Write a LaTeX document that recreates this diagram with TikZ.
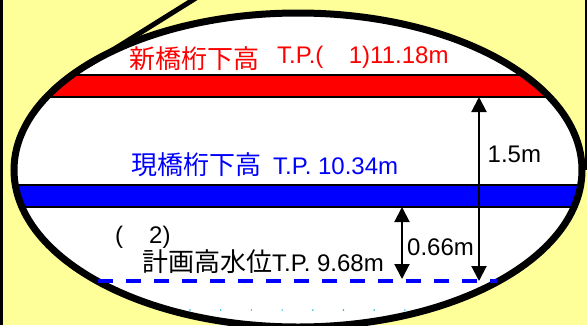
\documentclass[tikz,border=0pt]{standalone}
\usepackage{fontspec}
\setmainfont{Liberation Sans}
\newfontfamily\jp[Scale=1.083]{Noto Sans CJK JP}
\usepackage{tikz}
\usetikzlibrary{arrows.meta}
\definecolor{memo}{RGB}{255,255,153}
\definecolor{newred}{RGB}{255,0,0}
\definecolor{oldblue}{RGB}{0,0,255}
\tikzset{
    lbl/.style={anchor=base west, inner sep=0pt, font=\fontsize{24}{28}\selectfont},
    girder/.style={draw=black, line width=1.5pt},
    dimarrow/.style={{Triangle[width=15pt,length=15pt]}-{Triangle[width=15pt,length=15pt]}, line width=2pt},
}

\begin{document}
\begin{tikzpicture}[x=1pt,y=-1pt]
                \useasboundingbox (0,0) rectangle (587,325);
                \fill[memo] (0,0) rectangle (587,325);
                \fill[black] (0,0) rectangle (3,325);
                \draw[line width=2pt] (586,0) -- (586,170);
                % balloon
                \fill[white] (298,170) ellipse[x radius=284pt, y radius=157pt];
                \begin{scope}
                    \clip (298,170) ellipse[x radius=284pt, y radius=157pt];
                    \filldraw[girder, fill=newred] (0,75) rectangle (600,97);
                    \filldraw[girder, fill=oldblue] (0,185) rectangle (600,207);
                \end{scope}
                \draw[line width=7pt] (298,170) ellipse[x radius=284pt, y radius=157pt];
                \draw[line width=5pt] (196,-2) -- (87,66);
                \foreach \i in {0,...,7}
                    \fill[cyan] (190+30.7*\i,310) circle[radius=0.8pt];
                % levels
                \coordinate (hwlA) at (98,281);
                \coordinate (hwlB) at (497,281);
                \coordinate (newbot) at (479,97);
                \coordinate (hwlR) at (479,281);
                \coordinate (oldbot) at (402,207);
                \coordinate (hwlM) at (402,279);
                \draw[oldblue, line width=3.5pt, dash pattern=on 15pt off 13pt] (hwlA) -- (hwlB);
                \draw[dimarrow] (newbot) -- (hwlR);
                \draw[dimarrow] (oldbot) -- (hwlM);
                \node[lbl, text=newred] (newlvl) at (129,68) {{\jp 新橋桁下高}\hspace{18pt}\raisebox{5pt}{T.P.(\hspace{25.5pt}1)11.18m}};
                \node[lbl, text=oldblue] (oldlvl) at (131,174) {{\jp 現橋桁下高}\hspace{12pt}T.P. 10.34m};
                \node[lbl] (note2) at (115,243) {(\hspace{26pt}2)};
                \node[lbl] (hwl) at (142,271) {{\jp 計画高水位}T.P. 9.68m};
                \node[lbl] (rise) at (487.5,162) {1.5m};
                \node[lbl] (gap) at (407,255) {0.66m};
\end{tikzpicture}
\end{document}
